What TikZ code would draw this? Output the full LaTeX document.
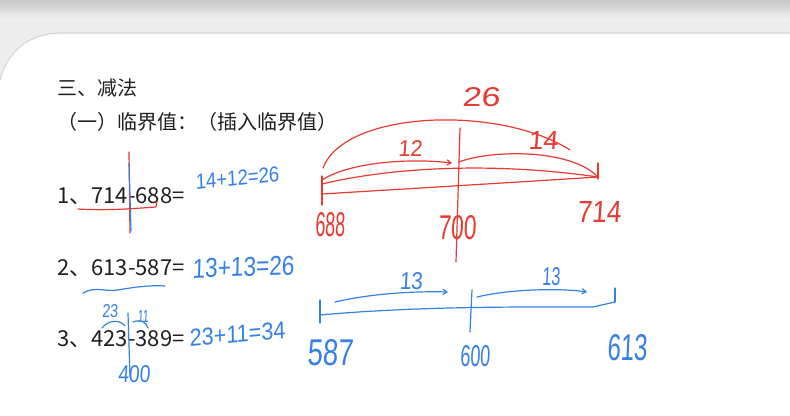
\documentclass[tikz,border=0pt]{standalone}
\usepackage{fontspec}
\usepackage{graphicx}
\usetikzlibrary{arrows.meta,positioning,calc}
\newfontfamily\cjk{Noto Sans CJK SC}
\newfontfamily\handfont[FakeSlant=0.08]{Liberation Sans}
\definecolor{inkBlue}{HTML}{3580E6}
\definecolor{inkRed}{HTML}{E73A30}
\definecolor{barGray}{HTML}{EDEDED}
\definecolor{barDark}{HTML}{C8C8C8}
\definecolor{edgeGray}{HTML}{D4D4D4}
\newdimen\pxu \pxu=0.75pt
\newcommand{\hw}[3]{\resizebox{#1\pxu}{#2\pxu}{\handfont #3}}

\begin{document}
\begin{tikzpicture}[x=0.75pt, y=-0.75pt,
  txt/.style={inner sep=0, anchor=base west, font=\cjk\fontsize{15}{18}\selectfont, text=black!88},
  qtxt/.style={txt, font=\cjk\fontsize{16.5}{19}\selectfont},
  bnum/.style={inner sep=0, text=inkBlue},
  rnum/.style={inner sep=0, text=inkRed},
  bln/.style={draw=inkBlue, line width=0.9pt, line cap=round, line join=round},
  rln/.style={draw=inkRed, line width=0.9pt, line cap=round, line join=round},
  hop/.style={-{Straight Barb[length=3pt,width=4pt]}},
]
\useasboundingbox (0,0) rectangle (790,415);
% window frame
\fill[barGray] (0,0) rectangle (790,415);
\shade[top color=barDark, bottom color=barGray] (0,0) rectangle (790,18);
\fill[white] (0,415) -- (0,80) .. controls (8,50) and (30,33) .. (62,33) -- (790,33) -- (790,415) -- cycle;
\draw[edgeGray, line width=0.8pt] (0,80) .. controls (8,50) and (30,33) .. (62,33) -- (790,33);

% printed text
\node[txt] (head) at (57,95) {三、减法};
\node[txt] (sub) at (57,129) {（一）临界值：（插入临界值）};
\node[qtxt] (q1) at (57,203) {1、714-688=};
\node[qtxt] (q2) at (57,275) {2、613-587=};
\node[qtxt] (q3) at (57,346) {3、423-389=};

% handwritten sums
\node[bnum, rotate=6] (s1) at (237,178) {\hw{84}{15}{14+12=26}};
\node[bnum, rotate=2] (s2) at (243,267) {\hw{102}{19}{13+13=26}};
\node[bnum, rotate=5] (s3) at (237,334) {\hw{96}{17}{23+11=34}};

% marks on question 1
\draw[rln] (129,152) -- (130,233);
\draw[bln] (129,163) -- (131,231);
\draw[rln] (78,209) .. controls (110,211) and (140,208) .. (156,207) -- (157,201);

% marks on question 2 and 3
\draw[bln] (83,293) .. controls (95,286) and (105,292) .. (118,290) .. controls (135,287) and (150,285) .. (165,286);
\node[bnum] (a23) at (110,311) {\hw{16}{13}{23}};
\node[bnum] (a11) at (143,316) {\hw{11}{12}{11}};
\node[bnum] (a400) at (134,374) {\hw{32}{17}{400}};
\draw[bln] (128,313) -- (130,377);
\draw[bln] (102,328) .. controls (108,320) and (120,319) .. (125,326);
\draw[bln] (133,322) .. controls (141,319) and (146,322) .. (148,328);

% red number line: 688 | 700 | 714
\coordinate (r688) at (322,194);
\coordinate (r700) at (459,162);
\coordinate (r714) at (598,177);
\draw[rln] (322,176) -- (322,205);
\draw[rln] (460,128) -- (456,262);
\draw[rln] (598,163) -- (598,179);
\draw[rln] (r688) .. controls (420,188) and (520,182) .. (r714);
\draw[rln] (322,184) .. controls (380,170) and (480,160) .. (r714);
\draw[rln, hop] (322,180) .. controls (350,162) and (410,158) .. (452,163);
\draw[rln] (r700) .. controls (490,150) and (570,148) .. (r714);
\draw[rln] (323,168) .. controls (345,110) and (500,105) .. (570,150);
\node[rnum] (g26) at (481,97) {\hw{38}{19}{26}};
\node[rnum] (g12) at (410,148) {\hw{24}{16}{12}};
\node[rnum] (g14) at (543,140) {\hw{30}{18}{14}};
\node[rnum] (n688) at (330,225) {\hw{30}{24}{688}};
\node[rnum] (n700) at (457,228) {\hw{38}{24}{700}};
\node[rnum] (n714) at (599,212) {\hw{44}{21}{714}};

% blue number line: 587 | 600 | 613
\coordinate (b587) at (320,315);
\coordinate (b600) at (471,309);
\coordinate (b613) at (615,302);
\draw[bln] (320,300) -- (320,323);
\draw[bln] (b587) .. controls (420,306) and (520,307) .. (593,307) -- (b613);
\draw[bln] (472,290) -- (470,332);
\draw[bln] (615,288) -- (b613);
\draw[bln, hop] (335,302) .. controls (370,294) and (410,291) .. (448,292);
\draw[bln, hop] (477,297) .. controls (510,289) and (560,288) .. (587,292);
\node[bnum] (j1) at (411,281) {\hw{23}{17}{13}};
\node[bnum] (j2) at (551,277) {\hw{18}{18}{13}};
\node[bnum] (n587) at (330,353) {\hw{46}{26}{587}};
\node[bnum] (n600) at (475,356) {\hw{30}{21}{600}};
\node[bnum] (n613) at (627,348) {\hw{40}{26}{613}};
\end{tikzpicture}
\end{document}
